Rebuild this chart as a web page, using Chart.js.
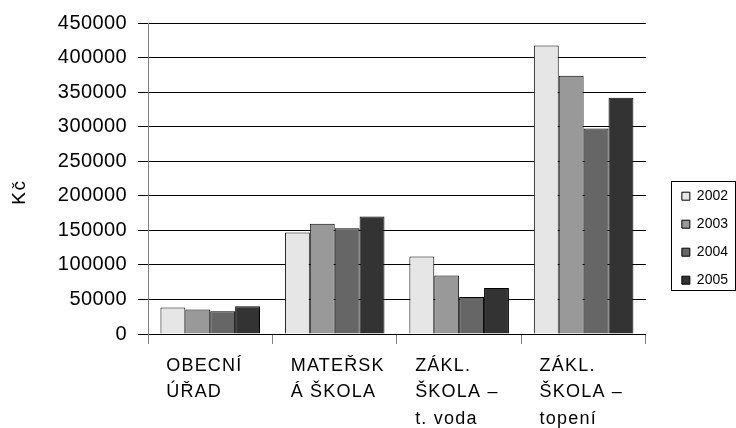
<!DOCTYPE html>
<html>
<head>
<meta charset="utf-8">
<script src="https://cdn.jsdelivr.net/npm/chart.js@4.4.1/dist/chart.umd.min.js"></script>
<style>
  html, body { margin: 0; padding: 0; background: #fff; }
  #wrap { width: 736px; height: 428px; }
</style>
</head>
<body>
<div id="wrap"><canvas id="myChart"></canvas></div>
<script>
var categories = [
	['OBECNÍ', 'ÚŘAD'],
	['MATEŘSK', 'Á ŠKOLA'],
	['ZÁKL.', 'ŠKOLA –', 't. voda'],
	['ZÁKL.', 'ŠKOLA –', 'topení']
];
var years = ['2002', '2003', '2004', '2005'];
var colors = ['#e6e6e6', '#999999', '#666666', '#333333'];

var v2002 = [38500, 147000, 112000, 417500];
var v2003 = [35500, 159500, 84500, 373500];
var v2004 = [33000, 153000, 53500, 297500];
var v2005 = [40000, 170000, 66500, 342000];

var yTicks = [0, 50000, 100000, 150000, 200000, 250000, 300000, 350000, 400000, 450000];

var series = [v2002, v2003, v2004, v2005];
var datasets = [];
for (var i in series) {
	datasets.push({
		label: years[i],
		data: series[i],
		backgroundColor: colors[i],
		borderColor: '#000',
		borderWidth: 1,
		categoryPercentage: 0.8,
		barPercentage: 1.0
	});
}

Chart.defaults.font.family = "'Liberation Sans', Arial, sans-serif";
Chart.defaults.color = '#000';

// the original spreads some of its text out a little
function withSpacing(chart, obj, name, sp) {
	if (!obj || obj['_sp_' + name]) return;
	var orig = obj[name];
	obj[name] = function() {
		var c = chart.ctx;
		var prev = c.letterSpacing;
		c.letterSpacing = sp;
		var r = orig.apply(this, arguments);
		c.letterSpacing = prev;
		return r;
	};
	obj['_sp_' + name] = true;
}
var spacing = {
	id: 'spacing',
	beforeDraw: function(chart) {
		withSpacing(chart, chart.scales.x, 'drawLabels', '1.2px');
		withSpacing(chart, chart.scales.y, 'drawLabels', '0.4px');
		withSpacing(chart, chart.scales.y, 'drawTitle', '1.5px');
	}
};

// frame round the legend
var legendFrame = {
	id: 'legendFrame',
	afterDraw: function(chart) {
		var lg = chart.legend;
		var ctx = chart.ctx;
		var pad = lg.options.labels.padding;
		var itemH = lg.options.labels.font.size;
		var top = lg.top + lg._computeTitleHeight() + pad;
		var n = lg.legendItems.length;
		var y0 = Math.round(top - 8) + 0.5;
		var y1 = Math.round(top + (n - 1) * (itemH + pad) + itemH + 3) + 0.5;
		var x0 = Math.round(lg.left + 3) + 0.5;
		var x1 = Math.min(lg.right, chart.width) - 0.5;
		ctx.save();
		ctx.strokeStyle = '#000';
		ctx.lineWidth = 1;
		ctx.strokeRect(x0, y0, x1 - x0, y1 - y0);
		ctx.restore();
	}
};

var ctx = document.getElementById('myChart');
var barGraph = new Chart(ctx, {
	type: 'bar',
	data: { labels: categories, datasets: datasets },
	plugins: [spacing, legendFrame],
	options: {
		responsive: true,
		maintainAspectRatio: false,
		animation: false,
		layout: { padding: { top: 22, left: 0, right: -2, bottom: 0 } },
		plugins: {
			tooltip: { enabled: false },
			legend: {
				position: 'right',
				align: 'start',
				title: { display: true, text: '', font: { size: 11 }, padding: { top: 140, bottom: 0 } },
				labels: {
					boxWidth: 8,
					boxHeight: 8,
					padding: 14,
					color: '#000',
					font: { size: 14 }
				}
			}
		},
		scales: {
			x: {
				offset: true,
				afterFit: function(scale) { scale.height = 94; },
				grid: {
					offset: true,
					drawOnChartArea: false,
					drawTicks: true,
					tickLength: 10,
					tickColor: '#808080'
				},
				border: { color: '#000' },
				ticks: {
					align: 'start',
					labelOffset: -44,
					maxRotation: 0,
					autoSkip: false,
					padding: 8.5,
					color: '#000',
					font: { size: 18, lineHeight: 1.47 }
				}
			},
			y: {
				min: 0,
				max: 450000,
				afterFit: function(scale) { scale.width = 148; },
				afterBuildTicks: function(scale) {
					scale.ticks = yTicks.map(function(v) { return { value: v }; });
				},
				grid: { color: '#000', tickColor: '#000', tickLength: 10 },
				border: { color: '#808080' },
				ticks: {
					padding: 11,
					color: '#000',
					font: { size: 20 },
					callback: function(v) { return String(v); }
				},
				title: {
					display: true,
					text: 'Kč    ',
					color: '#000',
					font: { size: 19 },
					padding: { top: 8.6, bottom: 30 }
				}
			},
			gap: {
				type: 'linear',
				position: 'right',
				display: true,
				grid: { display: false },
				border: { display: false },
				ticks: { display: false },
				afterFit: function(scale) { scale.width = 22; }
			}
		}
	}
});
</script>
</body>
</html>
